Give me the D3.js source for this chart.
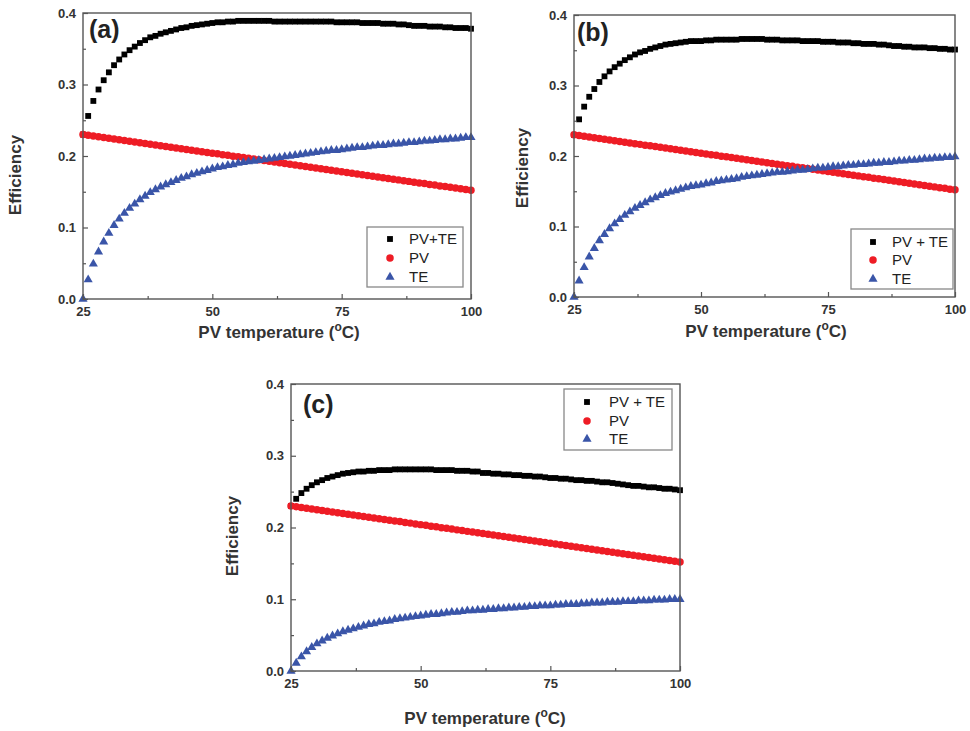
<!DOCTYPE html>
<html><head><meta charset="utf-8">
<script src="https://cdn.jsdelivr.net/npm/d3@7/dist/d3.min.js"></script>
<style>body{margin:0;background:#fff}</style>
</head><body>
<svg id="chart" width="970" height="731"></svg>
<script>
// ---------------- DATA ----------------
const temperatures = [25,26,27,28,29,30,31,32,33,34,35,36,37,38,39,40,41,42,43,44,45,46,47,48,49,50,
  51,52,53,54,55,56,57,58,59,60,61,62,63,64,65,66,67,68,69,70,71,72,73,74,75,
  76,77,78,79,80,81,82,83,84,85,86,87,88,89,90,91,92,93,94,95,96,97,98,99,100];

const pvEfficiency = [
  .2300,.2290,.2279,.2269,.2258,.2248,.2238,.2227,.2217,.2206,
  .2196,.2186,.2175,.2165,.2154,.2144,.2134,.2123,.2113,.2102,
  .2092,.2082,.2071,.2061,.2050,.2040,.2030,.2019,.2009,.1998,
  .1988,.1978,.1967,.1957,.1946,.1936,.1926,.1915,.1905,.1894,
  .1884,.1874,.1863,.1853,.1842,.1832,.1822,.1811,.1801,.1790,
  .1780,.1770,.1759,.1749,.1738,.1728,.1718,.1707,.1697,.1686,
  .1676,.1666,.1655,.1645,.1634,.1624,.1614,.1603,.1593,.1582,
  .1572,.1562,.1551,.1541,.1530,.1520];

const teEfficiencyA = [
  0,.027,.049,.066,.080,.092,.103,.112,.120,.127,
  .133,.139,.144,.149,.153,.157,.160,.163,.166,.169,
  .171,.174,.176,.178,.180,.182,.184,.185,.187,.188,
  .190,.191,.192,.193,.194,.195,.196,.197,.198,.199,
  .200,.201,.202,.203,.204,.205,.206,.207,.208,.208,
  .209,.210,.211,.212,.212,.213,.214,.215,.215,.216,
  .217,.217,.218,.219,.219,.220,.221,.221,.222,.223,
  .223,.224,.224,.225,.226,.226];

const totalEfficiencyA = [
  .230,.256,.277,.293,.306,.317,.327,.335,.342,.348,
  .353,.358,.362,.366,.368,.371,.373,.375,.377,.379,
  .380,.382,.383,.384,.385,.386,.387,.387,.388,.388,
  .389,.389,.389,.389,.389,.389,.389,.388,.388,.388,
  .388,.388,.388,.388,.388,.388,.388,.388,.388,.387,
  .387,.387,.387,.387,.386,.386,.386,.386,.385,.385,
  .385,.384,.384,.383,.382,.382,.382,.381,.381,.381,
  .380,.380,.379,.379,.379,.378];

const teEfficiencyB = [
  0,.023,.042,.057,.069,.080,.089,.097,.104,.110,
  .116,.121,.126,.130,.134,.138,.141,.144,.147,.149,
  .151,.153,.155,.157,.158,.159,.161,.162,.164,.165,
  .166,.167,.168,.170,.171,.172,.173,.174,.175,.176,
  .177,.177,.178,.179,.180,.180,.181,.182,.183,.183,
  .184,.185,.185,.186,.187,.187,.188,.188,.189,.190,
  .190,.191,.191,.192,.193,.193,.194,.194,.195,.196,
  .196,.197,.197,.198,.198,.199];

const totalEfficiencyB = [
  .230,.252,.270,.284,.295,.305,.313,.320,.326,.331,
  .336,.340,.344,.347,.349,.352,.354,.356,.358,.359,
  .360,.361,.362,.363,.363,.363,.364,.364,.365,.365,
  .365,.365,.365,.366,.366,.366,.366,.366,.365,.365,
  .365,.364,.364,.364,.364,.363,.363,.363,.363,.362,
  .362,.362,.361,.361,.361,.360,.360,.359,.359,.359,
  .358,.358,.357,.356,.356,.355,.355,.354,.354,.354,
  .353,.353,.352,.352,.351,.351];

const teEfficiencyC = [
  0,.011,.020,.027,.033,.038,.042,.046,.049,.052,
  .055,.057,.059,.061,.063,.065,.066,.068,.069,.070,
  .072,.073,.074,.075,.076,.077,.078,.079,.079,.080,
  .081,.082,.082,.083,.084,.084,.085,.085,.086,.086,
  .087,.087,.088,.088,.089,.089,.090,.090,.091,.091,
  .091,.092,.092,.093,.093,.093,.094,.094,.095,.095,
  .095,.096,.096,.096,.097,.097,.097,.098,.098,.098,
  .099,.099,.099,.100,.100,.100];

const totalEfficiencyC = [
  .230,.240,.248,.254,.259,.263,.266,.269,.271,.273,
  .275,.276,.277,.278,.278,.279,.279,.280,.280,.280,
  .281,.281,.281,.281,.281,.281,.281,.281,.280,.280,
  .280,.280,.279,.279,.279,.278,.278,.276,.276,.275,
  .275,.274,.274,.273,.273,.272,.272,.271,.271,.270,
  .269,.269,.268,.268,.267,.266,.266,.265,.265,.264,
  .263,.263,.262,.261,.260,.259,.258,.258,.257,.256,
  .256,.255,.254,.254,.253,.252];

const xTicks = [25, 50, 75, 100];
const xMinorTicks = [37.5, 62.5, 87.5];
const yTicks = [0, 0.1, 0.2, 0.3, 0.4];
const yMinorTicks = [0.05, 0.15, 0.25, 0.35];
const panelLabels = ["(a)", "(b)", "(c)"];
const legendLabelsA = ["PV+TE", "PV", "TE"];
const legendLabelsBC = ["PV + TE", "PV", "TE"];
const xAxisTitle = "PV temperature (";
const yAxisTitle = "Efficiency";

// ---------------- LAYOUT ----------------
const panels = [
  { label: panelLabels[0], total: totalEfficiencyA, pv: pvEfficiency, te: teEfficiencyA, legend: legendLabelsA,
    x0: 83, x1: 471, y0: 13, y1: 299, lab: [89, 38],
    yTitle: [15, 175], xTitle: [279, 338],
    lg: { x: 367, y: 227, w: 96, h: 60, sx: 390, tx: 409, rows: [239, 258, 277] } },
  { label: panelLabels[1], total: totalEfficiencyB, pv: pvEfficiency, te: teEfficiencyB, legend: legendLabelsBC,
    x0: 574, x1: 955, y0: 15, y1: 297, lab: [577, 41],
    yTitle: [522, 168], xTitle: [766, 337],
    lg: { x: 851, y: 229, w: 102, h: 60, sx: 873, tx: 892, rows: [242, 260, 279] } },
  { label: panelLabels[2], total: totalEfficiencyC, pv: pvEfficiency, te: teEfficiencyC, legend: legendLabelsBC,
    x0: 291, x1: 680, y0: 384, y1: 671, lab: [303, 413],
    yTitle: [232, 536], xTitle: [485, 724],
    lg: { x: 564, y: 389, w: 108, h: 61, sx: 587, tx: 609, rows: [402, 421, 439] } }
];

const colors = { total: "#000000", pv: "#ee1c25", te: "#3a55a8" };
const fontFamily = "'Liberation Sans', Arial, Helvetica, sans-serif";

const svg = d3.select("#chart");
const sqSym = d3.symbol().type(d3.symbolSquare).size(34);
const ciSym = d3.symbol().type(d3.symbolCircle).size(44);
const trSym = d3.symbol().type(d3.symbolTriangle).size(36);

panels.forEach(p => {
  const x = d3.scaleLinear().domain([25, 100]).range([p.x0, p.x1]);
  const y = d3.scaleLinear().domain([0, 0.4]).range([p.y1, p.y0]);
  const g = svg.append("g");

  const series = [
    { vals: p.total, sym: sqSym, color: colors.total },
    { vals: p.pv, sym: ciSym, color: colors.pv },
    { vals: p.te, sym: trSym, color: colors.te }
  ];
  series.forEach(s => {
    g.append("g").selectAll("path").data(temperatures).join("path")
      .attr("d", s.sym)
      .attr("transform", (t, i) => `translate(${x(t)},${y(s.vals[i])})`)
      .attr("fill", s.color);
  });

  g.append("rect").attr("x", p.x0).attr("y", p.y0)
    .attr("width", p.x1 - p.x0).attr("height", p.y1 - p.y0)
    .attr("fill", "none").attr("stroke", "#555").attr("stroke-width", 1.4);

  const xa = g.append("g").attr("transform", `translate(0,${p.y1})`)
    .call(d3.axisBottom(x).tickValues(xTicks).tickSize(-5).tickPadding(8).tickFormat(d3.format("d")));
  const xm = g.append("g").attr("transform", `translate(0,${p.y1})`)
    .call(d3.axisBottom(x).tickValues(xMinorTicks).tickSize(-3).tickFormat(""));
  const ya = g.append("g").attr("transform", `translate(${p.x0},0)`)
    .call(d3.axisLeft(y).tickValues(yTicks).tickSize(-5).tickPadding(7).tickFormat(d3.format(".1f")));
  const ym = g.append("g").attr("transform", `translate(${p.x0},0)`)
    .call(d3.axisLeft(y).tickValues(yMinorTicks).tickSize(-3).tickFormat(""));
  [xa, xm, ya, ym].forEach(a => {
    a.select(".domain").remove();
    a.selectAll("line").attr("stroke", "#555").attr("stroke-width", 1.2);
    a.selectAll("text").attr("font-family", fontFamily).attr("font-weight", "bold")
      .attr("font-size", 13).attr("fill", "#333");
  });

  g.append("text").attr("x", p.lab[0]).attr("y", p.lab[1]).text(p.label)
    .attr("font-family", fontFamily).attr("font-weight", "bold").attr("font-size", 25).attr("fill", "#222");

  g.append("text").attr("transform", `translate(${p.yTitle[0]},${p.yTitle[1]}) rotate(-90)`)
    .attr("text-anchor", "middle").attr("dy", "0.35em").text(yAxisTitle)
    .attr("font-family", fontFamily).attr("font-weight", "bold").attr("font-size", 17).attr("fill", "#333");
  const xt = g.append("text").attr("x", p.xTitle[0]).attr("y", p.xTitle[1])
    .attr("text-anchor", "middle")
    .attr("font-family", fontFamily).attr("font-weight", "bold").attr("font-size", 17).attr("fill", "#333");
  xt.append("tspan").text(xAxisTitle);
  xt.append("tspan").attr("dy", -7).attr("font-size", 12).text("o");
  xt.append("tspan").attr("dy", 7).text("C)");

  const lg = p.lg;
  g.append("rect").attr("x", lg.x).attr("y", lg.y).attr("width", lg.w).attr("height", lg.h)
    .attr("fill", "#fff").attr("stroke", "#888").attr("stroke-width", 1.3);
  const syms = [sqSym, ciSym, trSym];
  const cols = [colors.total, colors.pv, colors.te];
  p.legend.forEach((name, i) => {
    g.append("path").attr("d", syms[i]).attr("fill", cols[i])
      .attr("transform", `translate(${lg.sx},${lg.rows[i]})`);
    g.append("text").attr("x", lg.tx).attr("y", lg.rows[i]).attr("dy", "0.35em").text(name)
      .attr("font-family", fontFamily).attr("font-size", 15).attr("fill", "#222");
  });
});
</script>
</body></html>
